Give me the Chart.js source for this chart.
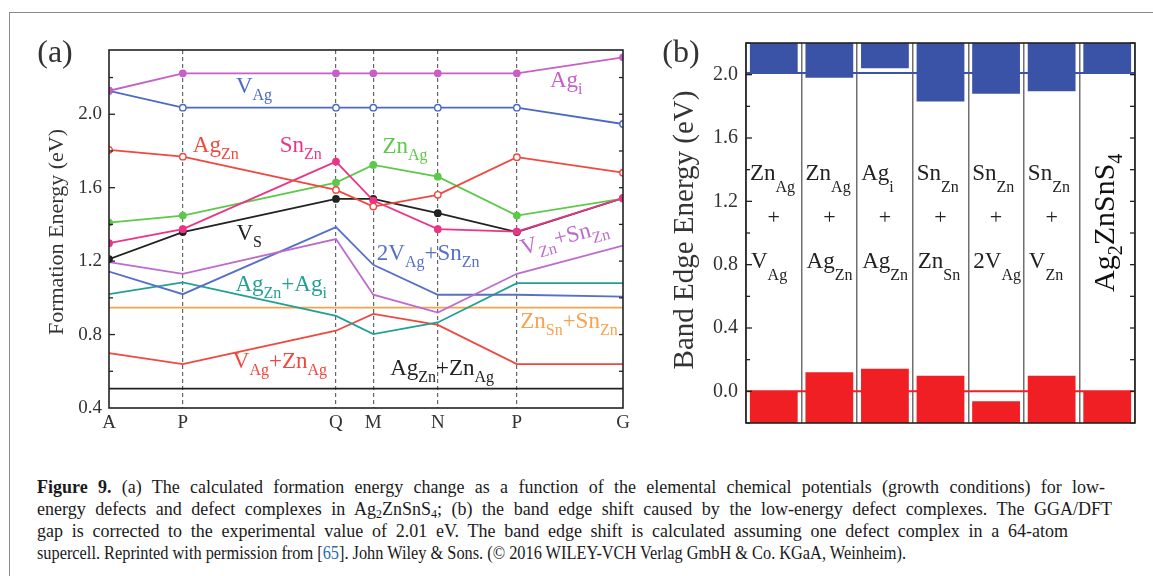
<!DOCTYPE html>
<html>
<head>
<meta charset="utf-8">
<script src="https://cdn.jsdelivr.net/npm/chart.js@4.4.1/dist/chart.umd.min.js"></script>
<style>
  html, body { margin: 0; padding: 0; background: #fff; }
  body { width: 1153px; height: 576px; position: relative; overflow: hidden; font-family: "Liberation Serif", "Times New Roman", serif; }
  #frame { position: absolute; left: 9px; top: 12px; width: 1200px; height: 600px; border-left: 1.5px solid #8a8a8a; border-top: 1.5px solid #8a8a8a; }
  #chartA { position: absolute; left: 0; top: 0; }
  #chartB { position: absolute; left: 650px; top: 0; }
  #caption { position: absolute; left: 37px; top: 476px; font-size: 18px; line-height: 22px; color: #1a1a1a; }
  #caption .ln { width: max-content; white-space: nowrap; transform-origin: 0 0; }
  #caption sub { font-size: 12px; vertical-align: -3px; line-height: 0; }
</style>
</head>
<body>
<div id="frame"></div>
<canvas id="chartA" width="650" height="445"></canvas>
<canvas id="chartB" width="500" height="445"></canvas>
<div id="caption">
  <div class="ln" data-w="1068"><b>Figure 9.</b> (a) The calculated formation energy change as a function of the elemental chemical potentials (growth conditions) for low-</div>
  <div class="ln" data-w="1075">energy defects and defect complexes in Ag<sub>2</sub>ZnSnS<sub>4</sub>; (b) the band edge shift caused by the low-energy defect complexes. The GGA/DFT</div>
  <div class="ln" data-w="1031">gap is corrected to the experimental value of 2.01 eV. The band edge shift is calculated assuming one defect complex in a 64-atom</div>
  <div class="ln" id="lastLine" data-w="869">supercell. Reprinted with permission from [<span style="color:#2b6cb3">65</span>]. John Wiley &amp; Sons. (© 2016 WILEY-VCH Verlag GmbH &amp; Co. KGaA, Weinheim).</div>
</div>
<script>
// ---- panel (a): formation energies along the chemical-potential path ----
var pathLabels = ['A', 'P', 'Q', 'M', 'N', 'P', 'G'];
var pathPos    = [0, 0.1436, 0.4416, 0.5142, 0.6397, 0.7935, 1.0];
var formTicks  = [0.4, 0.8, 1.2, 1.6, 2.0];

var agI      = [2.128, 2.223, 2.223, 2.223, 2.223, 2.223, 2.31];
var vAg      = [2.128, 2.036, 2.036, 2.036, 2.036, 2.036, 1.947];
var agZn     = [1.806, 1.769, 1.588, 1.497, 1.561, 1.766, 1.682];
var snZn     = [1.298, 1.374, 1.742, 1.53, 1.374, 1.361, 1.543];
var znAg     = [1.41, 1.448, 1.628, 1.724, 1.66, 1.448, 1.54];
var vS       = [1.211, 1.358, 1.539, 1.539, 1.461, 1.358, 1.543];
var vZnSnZn  = [1.195, 1.131, 1.32, 1.017, 0.92, 1.131, 1.285];
var v2AgSnZn = [1.143, 1.02, 1.385, 1.18, 1.017, 1.017, 1.007];
var agZnAgI  = [1.02, 1.084, 0.902, 0.803, 0.866, 1.08, 1.08];
var znSnSnZn = [0.947, 0.947, 0.947, 0.947, 0.947, 0.947, 0.947];
var vAgZnAg  = [0.699, 0.639, 0.821, 0.913, 0.853, 0.639, 0.639];
var agZnZnAg = [0.505, 0.505, 0.505, 0.505, 0.505, 0.505, 0.505];

// ---- panel (b): band edges for each defect complex ----
var complexes = ['ZnAg+VAg', 'ZnAg+AgZn', 'Agi+AgZn', 'SnZn+ZnSn', 'SnZn+2VAg', 'SnZn+VZn', 'Ag2ZnSnS4'];
var cbm = [2.01, 1.98, 2.04, 1.83, 1.88, 1.895, 2.01];
var vbm = [0.0, 0.12, 0.143, 0.099, -0.063, 0.099, 0.0];
var gapCbm = 2.01;
var gapVbm = 0.0;
var bandTicks = [0.0, 0.4, 0.8, 1.2, 1.6, 2.0];

var serif = '"Liberation Serif", "Times New Roman", serif';
var col = {
  agI: '#c760c6', vAg: '#4b69c6', agZn: '#f0473f', snZn: '#ec3487',
  znAg: '#5ec84c', black: '#222222', vZn: '#bd6bcf', v2: '#5670c8',
  teal: '#22a094', orange: '#f8a24c', blue: '#3a53a7', red: '#f01f23'
};

function series(vals, color, marker, open) {
  return {
    data: vals.map(function (v, i) { return { x: pathPos[i], y: v }; }),
    borderColor: color,
    backgroundColor: color,
    borderWidth: 1.8,
    pointRadius: marker ? 3.2 : 0,
    pointBorderWidth: 1.4,
    pointBackgroundColor: open ? '#ffffff' : color,
    pointBorderColor: color,
    tension: 0
  };
}

// draws text with subscripts, parts = [[text, isSub], ...]
function rich(ctx, x, y, parts, size, subSize, drop, color) {
  ctx.fillStyle = color;
  ctx.textAlign = 'left';
  ctx.textBaseline = 'alphabetic';
  parts.forEach(function (p) {
    ctx.font = (p[1] ? subSize : size) + 'px ' + serif;
    ctx.fillText(p[0], x, p[1] ? y + drop : y);
    x += ctx.measureText(p[0]).width;
  });
}

function seg(ctx, x1, y1, x2, y2) {
  ctx.beginPath(); ctx.moveTo(x1, y1); ctx.lineTo(x2, y2); ctx.stroke();
}

var labelsA = [
  { p: [['V', 0], ['Ag', 1]], x: 0.247, y: 2.117, c: col.vAg },
  { p: [['Ag', 0], ['i', 1]], x: 0.858, y: 2.147, c: col.agI },
  { p: [['Ag', 0], ['Zn', 1]], x: 0.163, y: 1.796, c: col.agZn },
  { p: [['Sn', 0], ['Zn', 1]], x: 0.332, y: 1.796, c: col.snZn },
  { p: [['Zn', 0], ['Ag', 1]], x: 0.532, y: 1.788, c: col.znAg },
  { p: [['V', 0], ['S', 1]], x: 0.248, y: 1.316, c: col.black },
  { p: [['2V', 0], ['Ag', 1], ['+Sn', 0], ['Zn', 1]], x: 0.521, y: 1.207, c: col.v2 },
  { p: [['V', 0], ['Zn', 1], ['+Sn', 0], ['Zn', 1]], x: 0.805, y: 1.234, c: col.vZn, rot: -0.26 },
  { p: [['Ag', 0], ['Zn', 1], ['+Ag', 0], ['i', 1]], x: 0.246, y: 1.035, c: col.teal },
  { p: [['Zn', 0], ['Sn', 1], ['+Sn', 0], ['Zn', 1]], x: 0.8, y: 0.835, c: col.orange },
  { p: [['V', 0], ['Ag', 1], ['+Zn', 0], ['Ag', 1]], x: 0.241, y: 0.618, c: col.agZn },
  { p: [['Ag', 0], ['Zn', 1], ['+Zn', 0], ['Ag', 1]], x: 0.547, y: 0.581, c: col.black }
];

var decorA = {
  id: 'decorA',
  afterDatasetsDraw: function (chart) {
    var ctx = chart.ctx, a = chart.chartArea, y = chart.scales.y, x = chart.scales.x;
    ctx.save();
    ctx.strokeStyle = '#222'; ctx.lineWidth = 1.6;
    ctx.strokeRect(a.left, a.top, a.right - a.left, a.bottom - a.top);
    ctx.lineWidth = 1.3;
    for (var v = 0.6; v < 2.3; v += 0.2) {
      var py = y.getPixelForValue(v);
      var major = Math.abs(v / 0.4 - Math.round(v / 0.4)) < 1e-6;
      seg(ctx, a.left, py, a.left + (major ? 6 : 4), py);
      seg(ctx, a.right, py, a.right - 4, py);
    }
    labelsA.forEach(function (l) {
      ctx.save();
      ctx.translate(x.getPixelForValue(l.x), y.getPixelForValue(l.y));
      if (l.rot) ctx.rotate(l.rot);
      rich(ctx, 0, 0, l.p, 23, 16, 7, l.c);
      ctx.restore();
    });
    // axis title and panel tag
    ctx.fillStyle = '#333';
    ctx.font = '22px ' + serif;
    ctx.textAlign = 'center'; ctx.textBaseline = 'middle';
    ctx.save(); ctx.translate(57, 232); ctx.rotate(-Math.PI / 2);
    ctx.fillText('Formation Energy (eV)', 0, 0);
    ctx.restore();
    ctx.font = '32px ' + serif;
    ctx.fillText('(a)', 55, 54);
    ctx.restore();
  }
};

new Chart(document.getElementById('chartA'), {
  type: 'line',
  data: {
    datasets: [
      series(agI, col.agI, true, false),
      series(vAg, col.vAg, true, true),
      series(agZn, col.agZn, true, true),
      series(snZn, col.snZn, true, false),
      series(znAg, col.znAg, true, false),
      series(vS, col.black, true, false),
      series(vZnSnZn, col.vZn, false),
      series(v2AgSnZn, col.v2, false),
      series(agZnAgI, col.teal, false),
      series(znSnSnZn, col.orange, false),
      series(vAgZnAg, col.agZn, false),
      series(agZnZnAg, col.black, false)
    ]
  },
  options: {
    responsive: false,
    animation: false,
    layout: { padding: { top: 50, right: 27, left: 0, bottom: 0 } },
    plugins: { legend: { display: false }, tooltip: { enabled: false } },
    scales: {
      x: {
        type: 'linear', min: 0, max: 1,
        afterBuildTicks: function (s) { s.ticks = pathPos.map(function (v) { return { value: v }; }); },
        afterFit: function (s) { s.height = 37; },
        ticks: {
          autoSkip: false, maxRotation: 0, padding: 4, color: '#333',
          font: { family: serif, size: 19 },
          callback: function (v, i) { return pathLabels[i]; }
        },
        grid: {
          drawTicks: false, lineWidth: 1.2,
          color: function (c) { return (c.index === 0 || c.index === pathPos.length - 1) ? 'rgba(0,0,0,0)' : '#666'; }
        },
        border: { display: false, dash: [4, 3] }
      },
      y: {
        min: 0.4, max: 2.35,
        afterBuildTicks: function (s) { s.ticks = formTicks.map(function (v) { return { value: v }; }); },
        afterFit: function (s) { s.width = 109; },
        ticks: {
          padding: 7, color: '#333', font: { family: serif, size: 19 },
          callback: function (v) { return v.toFixed(1); }
        },
        grid: { drawOnChartArea: false, drawTicks: false },
        border: { display: false }
      }
    }
  },
  plugins: [decorA]
});

// ---- panel (b) ----
var colTop = [
  [['Zn', 0], ['Ag', 1]], [['Zn', 0], ['Ag', 1]], [['Ag', 0], ['i', 1]],
  [['Sn', 0], ['Zn', 1]], [['Sn', 0], ['Zn', 1]], [['Sn', 0], ['Zn', 1]]
];
var colBottom = [
  [['V', 0], ['Ag', 1]], [['Ag', 0], ['Zn', 1]], [['Ag', 0], ['Zn', 1]],
  [['Zn', 0], ['Sn', 1]], [['2V', 0], ['Ag', 1]], [['V', 0], ['Zn', 1]]
];

var decorB = {
  id: 'decorB',
  afterDatasetsDraw: function (chart) {
    var ctx = chart.ctx, a = chart.chartArea, y = chart.scales.y, x = chart.scales.x;
    var w = (a.right - a.left) / complexes.length;
    ctx.save();
    // reference band edges of the pristine compound
    ctx.lineWidth = 2;
    ctx.strokeStyle = col.blue;
    seg(ctx, a.left, y.getPixelForValue(gapCbm), a.right, y.getPixelForValue(gapCbm));
    ctx.strokeStyle = col.red;
    seg(ctx, a.left, y.getPixelForValue(gapVbm), a.right, y.getPixelForValue(gapVbm));
    ctx.strokeStyle = '#222'; ctx.lineWidth = 1.6;
    ctx.strokeRect(a.left, a.top, a.right - a.left, a.bottom - a.top);
    ctx.lineWidth = 1.3;
    for (var v = -0.2; v < 2.25; v += 0.2) {
      var py = y.getPixelForValue(v);
      var major = Math.abs(v / 0.4 - Math.round(v / 0.4)) < 1e-6;
      seg(ctx, a.left, py, a.left + (major ? 6 : 4), py);
      seg(ctx, a.right, py, a.right - 5, py);
    }
    colTop.forEach(function (parts, i) {
      var left = x.getPixelForValue(i) - w / 2;
      rich(ctx, left + 4, 180, parts, 23, 16, 12, '#222');
      rich(ctx, left + 5, 268, colBottom[i], 23, 16, 12, '#222');
      ctx.font = '22px ' + serif; ctx.textAlign = 'center'; ctx.textBaseline = 'middle';
      ctx.fillText('+', x.getPixelForValue(i), 218);
    });
    ctx.save();
    ctx.translate(x.getPixelForValue(complexes.length - 1) + 7, 292);
    ctx.rotate(-Math.PI / 2);
    rich(ctx, 0, 0, [['Ag', 0], ['2', 1], ['ZnSnS', 0], ['4', 1]], 30, 20, 8, '#111');
    ctx.restore();
    ctx.fillStyle = '#333'; ctx.textAlign = 'center'; ctx.textBaseline = 'middle';
    ctx.font = '29px ' + serif;
    ctx.save(); ctx.translate(35, 230); ctx.rotate(-Math.PI / 2);
    ctx.fillText('Band Edge Energy (eV)', 0, 0);
    ctx.restore();
    ctx.font = '32px ' + serif;
    ctx.fillText('(b)', 31, 54);
    ctx.restore();
  }
};

new Chart(document.getElementById('chartB'), {
  type: 'bar',
  data: {
    labels: complexes,
    datasets: [
      { data: cbm.map(function (v) { return [v, 2.2]; }), backgroundColor: col.blue, borderWidth: 0 },
      { data: vbm.map(function (v) { return [-0.2, v]; }), backgroundColor: col.red, borderWidth: 0 }
    ]
  },
  options: {
    responsive: false,
    animation: false,
    datasets: { bar: { grouped: false, barPercentage: 0.86, categoryPercentage: 1 } },
    layout: { padding: { top: 43, right: 15, left: 0, bottom: 22 } },
    plugins: { legend: { display: false }, tooltip: { enabled: false } },
    scales: {
      x: {
        afterFit: function (s) { s.height = 0; },
        ticks: { display: false },
        grid: { offset: true, drawTicks: false, color: '#707070', lineWidth: 1.5 },
        border: { display: false }
      },
      y: {
        min: -0.2, max: 2.2,
        afterBuildTicks: function (s) { s.ticks = bandTicks.map(function (v) { return { value: v }; }); },
        afterFit: function (s) { s.width = 96; },
        ticks: {
          padding: 8, color: '#333', font: { family: serif, size: 20 },
          callback: function (v) { return v.toFixed(1); }
        },
        grid: { drawOnChartArea: false, drawTicks: false },
        border: { display: false }
      }
    }
  },
  plugins: [decorB]
});

// caption: first three lines are justified out to their printed widths,
// the short last line is squeezed to its printed width
document.querySelectorAll('#caption .ln').forEach(function (el) {
  var w = el.getBoundingClientRect().width;
  var target = +el.dataset.w;
  if (el.id === 'lastLine' || w > target) {
    el.style.transform = 'scaleX(' + (target / w) + ')';
  } else {
    el.style.width = target + 'px';
    el.style.whiteSpace = 'normal';
    el.style.textAlign = 'justify';
    el.style.textAlignLast = 'justify';
  }
});
</script>
</body>
</html>
